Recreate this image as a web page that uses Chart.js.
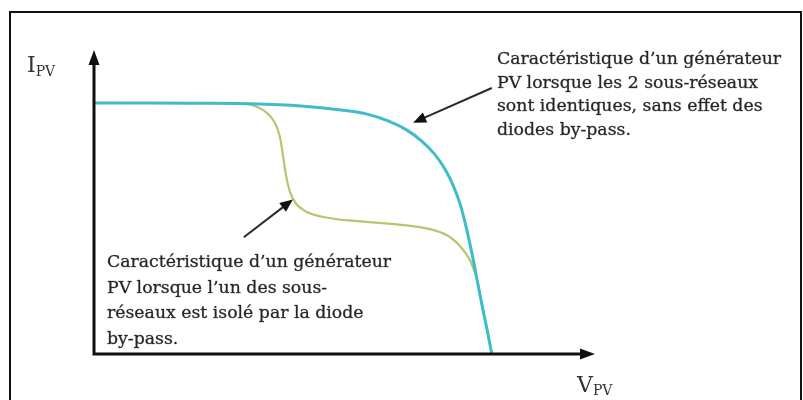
<!DOCTYPE html>
<html>
<head>
<meta charset="utf-8">
<script src="https://cdn.jsdelivr.net/npm/chart.js@4.4.1/dist/chart.umd.min.js"></script>
<style>
  html, body { margin: 0; padding: 0; background: #ffffff; }
  #wrap { width: 803px; height: 400px; }
</style>
</head>
<body>
<div id="wrap"><canvas id="c" width="803" height="400"></canvas></div>
<script>
// ---- Data (V in % of axis length, I in % of axis height) ----
const healthyV = [0, 11.2, 21.2, 31.3, 41.3, 49.3, 54.3, 58.7, 62.3, 65.3, 67.9, 70.1, 71.7, 73.1, 74.3, 75.6, 76.6, 77.6, 78.6, 79.4];
const healthyI = [82.6, 82.6, 82.5, 82.3, 81.6, 80.3, 79.0, 76.7, 73.8, 70.2, 65.9, 60.7, 55.4, 49.2, 41.6, 31.8, 23.3, 14.8, 6.9, 0];

const shadedV = [0, 21.2, 30.3, 32.5, 34.5, 36.1, 37.1, 37.7, 38.3, 39.1, 40.3, 42.3, 46.3, 53.3, 61.3, 67.3, 70.3, 72.3, 73.8, 75.3, 76.6, 77.6, 78.6, 79.4];
const shadedI = [82.6, 82.5, 82.3, 81.3, 79.3, 76.1, 71.5, 65.6, 59.0, 53.4, 49.5, 46.9, 44.9, 43.6, 42.5, 41.0, 39.2, 36.8, 34.0, 30.0, 23.3, 14.8, 6.9, 0];

const upperNote = ["Caractéristique d\u2019un générateur", "PV lorsque les 2 sous-réseaux", "sont identiques, sans effet des", "diodes by-pass."];
const lowerNote = ["Caractéristique d\u2019un générateur", "PV lorsque l\u2019un des sous-", "réseaux est isolé par la diode", "by-pass."];
const yLabel = ["I", "PV"];
const xLabel = ["V", "PV"];

// Arrow anchors (data coordinates): from -> to
const upperArrow = { from: [79.4, 87.5], to: [63.7, 76.1] };
const lowerArrow = { from: [29.9, 38.4], to: [39.7, 50.8] };

const toPts = (xs, ys) => xs.map((x, i) => ({ x: x, y: ys[i] }));

const SERIF = '"DejaVu Serif", "Liberation Serif", serif';

function arrowHead(ctx, x1, y1, x2, y2, len, half) {
  const a = Math.atan2(y2 - y1, x2 - x1);
  ctx.beginPath();
  ctx.moveTo(x2, y2);
  ctx.lineTo(x2 - len * Math.cos(a) + half * Math.sin(a), y2 - len * Math.sin(a) - half * Math.cos(a));
  ctx.lineTo(x2 - len * Math.cos(a) - half * Math.sin(a), y2 - len * Math.sin(a) + half * Math.cos(a));
  ctx.closePath();
  ctx.fill();
}

function boldText(ctx, t, x, y) {
  ctx.fillText(t, x, y);
  ctx.strokeText(t, x, y);
}

const decor = {
  id: 'decor',
  beforeDraw(chart) {
    const ctx = chart.ctx;
    ctx.save();
    ctx.fillStyle = '#ffffff';
    ctx.fillRect(0, 0, chart.width, chart.height);
    ctx.strokeStyle = '#111111';
    ctx.lineWidth = 2;
    ctx.strokeRect(10, 12, 791, 400);
    ctx.restore();
  },
  afterDatasetsDraw(chart) {
    const ctx = chart.ctx;
    const xs = chart.scales.x, ys = chart.scales.y;
    const x0 = xs.getPixelForValue(0), y0 = ys.getPixelForValue(0);
    const xEnd = xs.getPixelForValue(100), yEnd = ys.getPixelForValue(100);
    ctx.save();
    // axes
    ctx.strokeStyle = '#111111';
    ctx.fillStyle = '#111111';
    ctx.lineWidth = 3;
    ctx.beginPath();
    ctx.moveTo(x0, y0); ctx.lineTo(x0, yEnd + 10);
    ctx.moveTo(x0 - 1.5, y0); ctx.lineTo(xEnd - 10, y0);
    ctx.stroke();
    arrowHead(ctx, x0, y0, x0, yEnd, 15, 5.5);
    arrowHead(ctx, x0, y0, xEnd, y0, 15, 5.5);

    // annotation arrows
    ctx.strokeStyle = '#2a2a2a';
    ctx.fillStyle = '#111111';
    ctx.lineWidth = 2;
    [upperArrow, lowerArrow].forEach(a => {
      const fx = xs.getPixelForValue(a.from[0]), fy = ys.getPixelForValue(a.from[1]);
      const tx = xs.getPixelForValue(a.to[0]), ty = ys.getPixelForValue(a.to[1]);
      const ang = Math.atan2(ty - fy, tx - fx);
      ctx.beginPath();
      ctx.moveTo(fx, fy);
      ctx.lineTo(tx - 10 * Math.cos(ang), ty - 10 * Math.sin(ang));
      ctx.stroke();
      arrowHead(ctx, fx, fy, tx, ty, 13, 5.5);
    });

    // notes
    ctx.fillStyle = '#262626';
    ctx.strokeStyle = 'rgba(38,38,38,0.55)';
    ctx.lineWidth = 0.5;
    ctx.textBaseline = 'alphabetic';
    ctx.textAlign = 'left';
    ctx.font = '17.3px ' + SERIF;
    upperNote.forEach((t, i) => boldText(ctx, t, 497, 64 + i * 23.5));
    lowerNote.forEach((t, i) => boldText(ctx, t, 107, 267 + i * 25.5));

    // axis labels
    ctx.fillStyle = '#333333';
    ctx.font = '22px ' + SERIF;
    ctx.fillText(yLabel[0], 27, 72);
    let w = ctx.measureText(yLabel[0]).width;
    ctx.font = '14px ' + SERIF;
    ctx.fillText(yLabel[1], 27 + w, 76);
    ctx.font = '22px ' + SERIF;
    ctx.fillText(xLabel[0], 577, 392);
    w = ctx.measureText(xLabel[0]).width;
    ctx.font = '14px ' + SERIF;
    ctx.fillText(xLabel[1], 577 + w, 395);
    ctx.restore();
  }
};

new Chart(document.getElementById('c'), {
  type: 'scatter',
  data: {
    datasets: [
      {
        label: 'Shaded',
        data: toPts(shadedV, shadedI),
        showLine: true,
        borderColor: '#b5c66c',
        borderWidth: 2.2,
        pointRadius: 0,
        cubicInterpolationMode: 'monotone',
        order: 2
      },
      {
        label: 'Healthy',
        data: toPts(healthyV, healthyI),
        showLine: true,
        borderColor: '#3fbcc9',
        borderWidth: 3,
        pointRadius: 0,
        cubicInterpolationMode: 'monotone',
        order: 1
      }
    ]
  },
  options: {
    responsive: false,
    animation: false,
    devicePixelRatio: 1,
    layout: { padding: { left: 94, right: 208, top: 50, bottom: 46 } },
    plugins: { legend: { display: false }, tooltip: { enabled: false } },
    scales: {
      x: { type: 'linear', min: 0, max: 100, display: false },
      y: { type: 'linear', min: 0, max: 100, display: false }
    }
  },
  plugins: [decor]
});
</script>
</body>
</html>
